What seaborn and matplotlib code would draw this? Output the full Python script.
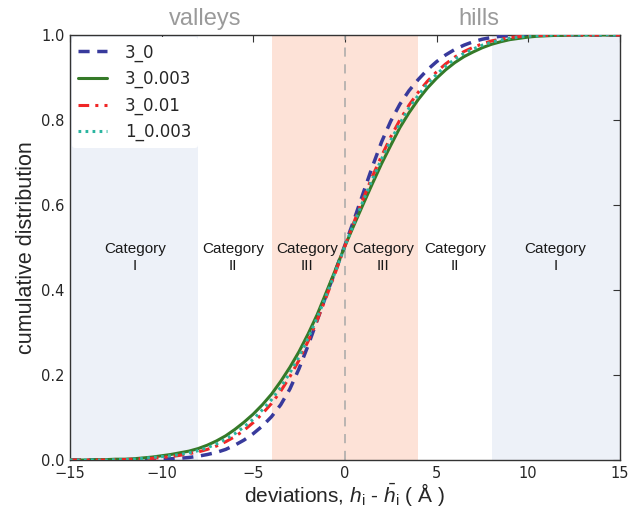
import numpy as np
import pandas as pd
import matplotlib
matplotlib.use("Agg")
import matplotlib.pyplot as plt
import seaborn as sns

# deviation grid (Angstrom), step 0.5, and cumulative distributions
dev = [i * 0.5 for i in range(-30, 31)]
cdf_3_0 = [0, 0, 0, 0, 0, 0, 0, .001, .001, .002,
           .002, .003, .004, .006, .009, .013, .018, .025, .035, .047,
           .062, .080, .102, .130, .167, .215, .270, .330, .390, .447,
           .505, .565, .628, .690, .748, .797, .837, .869, .895, .918,
           .937, .953, .966, .976, .984, .990, .994, .997, .998, .999,
           1, 1, 1, 1, 1, 1, 1, 1, 1, 1,
           1]
cdf_3_0003 = [0, 0, 0, .001, .001, .002, .002, .003, .005, .007,
              .010, .013, .017, .021, .027, .035, .045, .057, .072, .089,
              .108, .130, .155, .185, .218, .255, .297, .343, .396, .449,
              .503, .553, .602, .650, .697, .740, .782, .817, .848, .875,
              .898, .918, .935, .949, .960, .970, .978, .984, .989, .992,
              .995, .997, .998, .999, .999, 1, 1, 1, 1, 1,
              1]
cdf_3_001 = [0, 0, 0, 0, 0, .001, .001, .002, .003, .004,
             .006, .008, .011, .015, .019, .025, .033, .043, .055, .070,
             .088, .109, .133, .162, .196, .235, .280, .330, .385, .443,
             .503, .560, .615, .667, .715, .760, .800, .835, .865, .891,
             .913, .932, .948, .961, .971, .979, .986, .990, .994, .996,
             .998, .999, .999, 1, 1, 1, 1, 1, 1, 1,
             1]
cdf_1_0003 = [0, 0, 0, 0, 0, .001, .001, .002, .004, .006,
              .008, .010, .013, .017, .022, .029, .038, .049, .062, .078,
              .096, .118, .142, .171, .205, .243, .287, .336, .389, .445,
              .503, .557, .610, .660, .708, .752, .792, .828, .858, .885,
              .907, .927, .943, .957, .967, .976, .983, .988, .992, .995,
              .997, .998, .999, 1, 1, 1, 1, 1, 1, 1,
              1]

series = ['3_0', '3_0.003', '3_0.01', '1_0.003']
values = [cdf_3_0, cdf_3_0003, cdf_3_001, cdf_1_0003]
colors = ['#383a9c', '#357a28', '#f02626', '#2bb5a0']
styles = [(0, (3.2, 2.2)), '-', (0, (3.5, 2, 1, 2)), (0, (0.9, 1.4))]
widths = [2.5, 2.2, 2.2, 2.2]

cat_x = [-11.45, -6.1, -2.05, 2.1, 6.0, 11.5]
cat_names = ['I', 'II', 'III', 'III', 'II', 'I']

df = pd.DataFrame({'dev': dev * len(series),
                   'cdf': sum(values, []),
                   'run': sum([[s] * len(dev) for s in series], [])})

sns.set_style("white")
plt.rcParams['font.family'] = ['DejaVu Sans']
plt.rcParams['mathtext.fontset'] = 'custom'
plt.rcParams['mathtext.rm'] = 'Liberation Sans'
plt.rcParams['mathtext.it'] = 'Liberation Sans:italic'
lab_font = ['Liberation Sans', 'DejaVu Sans']

fig, ax = plt.subplots(figsize=(6.41, 5.14), dpi=100)
fig.subplots_adjust(left=0.109, right=0.967, top=0.932, bottom=0.105)

# category backgrounds
ax.axvspan(-15, -8, color='#edf1f8', lw=0, zorder=0)
ax.axvspan(8, 15, color='#edf1f8', lw=0, zorder=0)
ax.axvspan(-4, 4, color='#fde2d7', lw=0, zorder=0)
ax.axvline(0, color='#a8a8a8', ls=(0, (6, 5)), lw=1.1, zorder=1)

for s, c, st, w in zip(series, colors, styles, widths):
    sns.lineplot(data=df[df['run'] == s], x='dev', y='cdf', ax=ax, color=c,
                 lw=w, label=s, linestyle=st, zorder=3)

for xc, nm in zip(cat_x, cat_names):
    ax.text(xc, 0.476, 'Category\n' + nm, ha='center', va='center', fontsize=11,
            color='#1a1a1a', linespacing=1.25, family=lab_font)

ax.text(-7.6, 1.012, 'valleys', ha='center', va='bottom', fontsize=17,
        color='#9a9a9a', family=lab_font)
ax.text(7.3, 1.012, 'hills', ha='center', va='bottom', fontsize=17,
        color='#9a9a9a', family=lab_font)

ax.set_xlim(-15, 15)
ax.set_ylim(0, 1.0)
ax.set_xticks([-15, -10, -5, 0, 5, 10, 15])
ax.set_yticks([0.0, 0.2, 0.4, 0.6, 0.8, 1.0])
ax.tick_params(direction='in', top=True, right=True, length=5, labelsize=10.5,
               color='#333333', pad=4)
for sp in ax.spines.values():
    sp.set_color('#333333')
    sp.set_linewidth(1.0)

ax.set_xlabel(r"deviations, $h_{\rm i}$ - $\bar{h}_{\rm i}$ ( Å )", fontsize=15,
              family=lab_font, labelpad=0)
ax.set_ylabel('cumulative distribution', fontsize=15.5, family=lab_font, labelpad=3)

leg = ax.legend(loc='upper left', fontsize=12, frameon=True, handlelength=1.7,
                handletextpad=1.1, borderaxespad=0.1, labelspacing=0.5)
leg.get_frame().set_edgecolor('none')
leg.get_frame().set_facecolor('white')
leg.get_frame().set_alpha(1.0)

plt.savefig('out.png', dpi=100)
